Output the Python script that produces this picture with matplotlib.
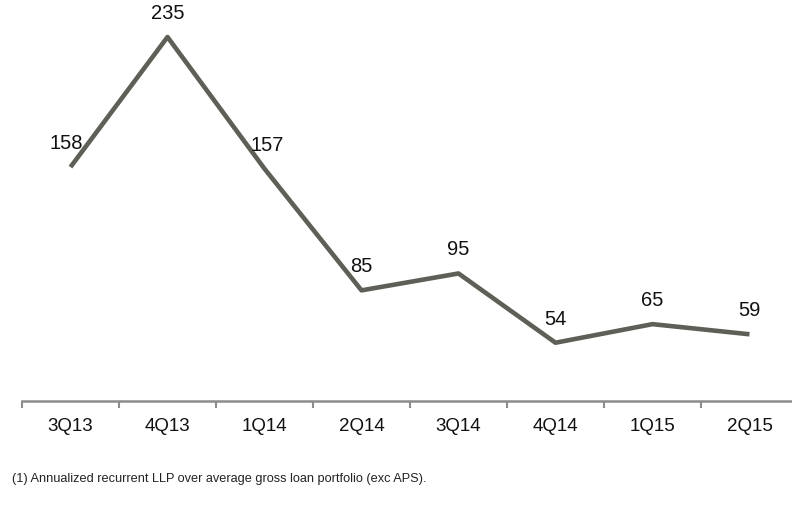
import matplotlib
matplotlib.use("Agg")
import matplotlib.pyplot as plt
import numpy as np

categories = ["3Q13", "4Q13", "1Q14", "2Q14", "3Q14", "4Q14", "1Q15", "2Q15"]
values = [158, 235, 157, 85, 95, 54, 65, 59]

plt.rcParams['font.family'] = ['Liberation Sans', 'DejaVu Sans']

fig = plt.figure(figsize=(7.92, 5.05), dpi=100)
ax = fig.add_axes([22/792, 1 - 401/505, 776/792, 401/505])

x = np.arange(len(categories))
ax.plot(x, values, color='#5f5f57', linewidth=3.3, solid_capstyle='butt', clip_on=False)

for xi, v in zip(x, values):
    dx = 0
    if xi == 0:
        dx = -3
    elif xi == 2:
        dx = 2
    ax.annotate(str(v), (xi, v), xytext=(dx, 17), textcoords='offset points',
                ha='center', va='center', fontsize=14.5, color='#111111')

ax.set_xlim(-0.5, len(categories) - 0.5)
ax.set_ylim(19.5, 256.9)

for s in ['top', 'right', 'left']:
    ax.spines[s].set_visible(False)
ax.spines['bottom'].set_color('#8c8c8c')
ax.spines['bottom'].set_linewidth(1.8)

ax.set_yticks([])
ax.set_xticks(np.arange(-0.5, len(categories) + 0.5, 1.0))
ax.set_xticklabels([])
ax.tick_params(axis='x', direction='out', length=5, width=1.5, color='#8c8c8c')
ax.set_xticks(x, minor=True)
ax.set_xticklabels(categories, minor=True)
ax.tick_params(axis='x', which='minor', length=0, pad=12, labelsize=13.5, labelcolor='#111111')

fig.text(12/792, 1 - 479/505, "(1) Annualized recurrent LLP over average gross loan portfolio (exc APS).",
         fontsize=9.2, color='#222222', va='center', ha='left')

fig.savefig("out.png", dpi=100)
